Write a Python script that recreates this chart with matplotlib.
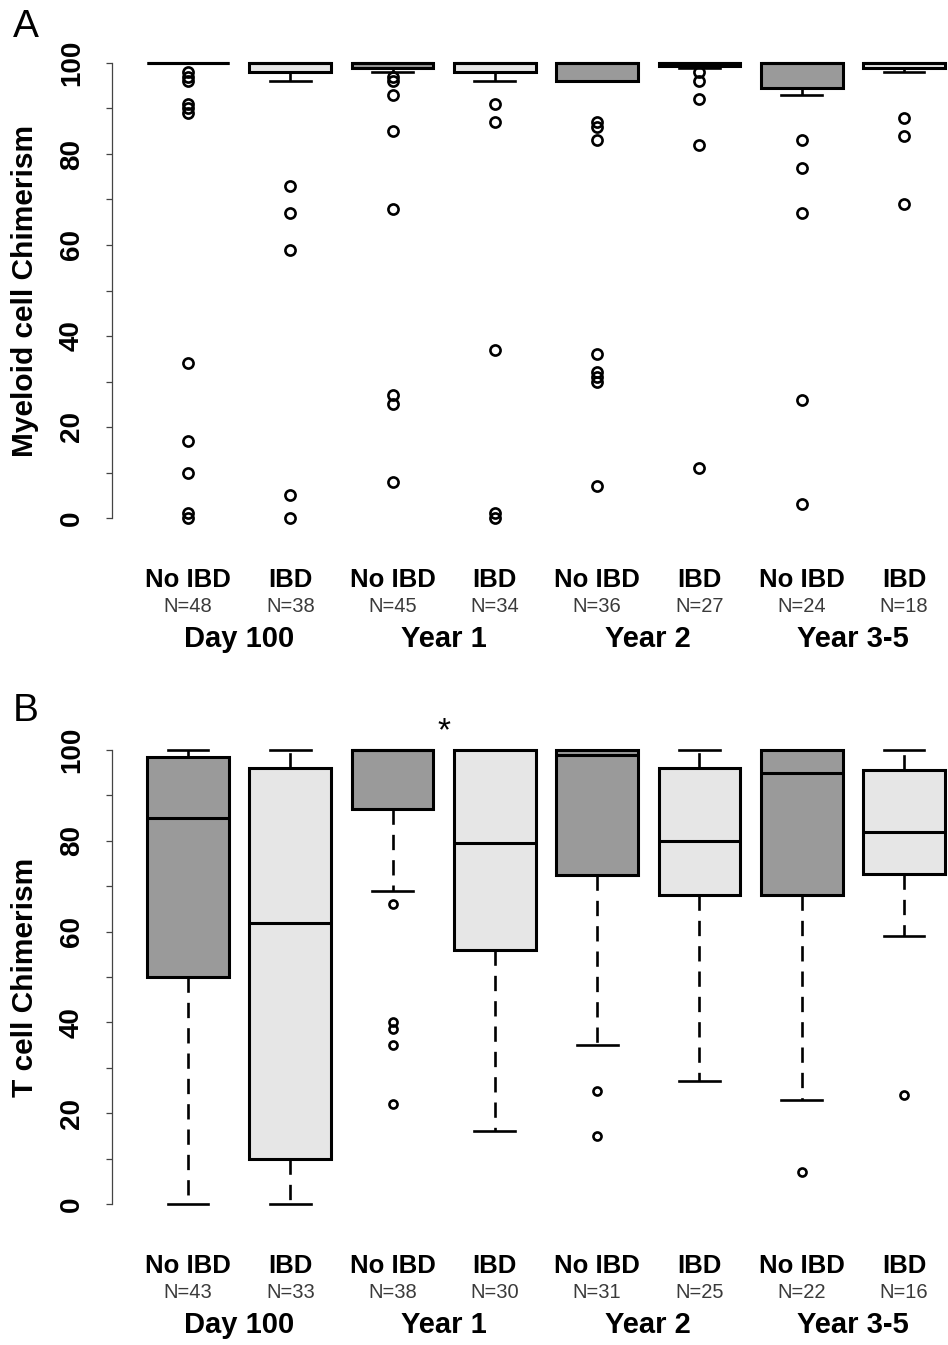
import matplotlib
matplotlib.use('Agg')
import matplotlib.pyplot as plt
from matplotlib.ticker import MultipleLocator

plt.rcParams['font.family'] = ['Liberation Sans', 'DejaVu Sans']

groups = ['Day 100', 'Year 1', 'Year 2', 'Year 3-5']
status = ['No IBD', 'IBD', 'No IBD', 'IBD', 'No IBD', 'IBD', 'No IBD', 'IBD']

# panel A - myeloid cell chimerism
myeloid_n = [48, 38, 45, 34, 36, 27, 24, 18]
myeloid_q1 = [100, 98, 98.8, 98, 96, 99.3, 94.5, 99]
myeloid_med = [100, 100, 100, 100, 100, 100, 100, 100]
myeloid_q3 = [100, 100, 100, 100, 100, 100, 100, 100]
myeloid_lo = [100, 96, 98, 96, 96, 99, 93, 98]
myeloid_hi = [100, 100, 100, 100, 100, 100, 100, 100]
myeloid_out = [
    [98, 97, 96, 91, 90, 89, 34, 17, 10, 1, 0],
    [73, 67, 59, 5, 0],
    [97, 96, 93, 85, 68, 27, 25, 8],
    [91, 87, 37, 1, 0],
    [87, 86, 83, 36, 32, 31, 30, 7],
    [98, 96, 92, 82, 11],
    [83, 77, 67, 26, 3],
    [88, 84, 69],
]

# panel B - T cell chimerism
tcell_n = [43, 33, 38, 30, 31, 25, 22, 16]
tcell_q1 = [50, 10, 87, 56, 72.5, 68, 68, 72.7]
tcell_med = [85, 62, 100, 79.5, 99, 80, 95, 82]
tcell_q3 = [98.5, 96, 100, 100, 100, 96, 100, 95.5]
tcell_lo = [0, 0, 69, 16, 35, 27, 23, 59]
tcell_hi = [100, 100, 100, 100, 100, 100, 100, 100]
tcell_out = [[], [], [66, 40, 38.5, 35, 22], [], [25, 15], [], [7], [24]]

fills = {'No IBD': '#9a9a9a', 'IBD': '#e6e6e6'}
W, H = 948, 1345


def make_stats(q1, med, q3, lo, hi, out):
    stats = []
    for i in range(len(q1)):
        stats.append(dict(q1=q1[i], med=med[i], q3=q3[i], whislo=lo[i],
                          whishi=hi[i], fliers=out[i]))
    return stats


def panel(ax, stats, counts, ylabel, msize):
    pos = list(range(1, len(stats) + 1))
    bp = ax.bxp(stats, positions=pos, widths=0.8, patch_artist=True,
                showfliers=True,
                boxprops=dict(linewidth=2.2, edgecolor='black'),
                whiskerprops=dict(linewidth=1.9, linestyle=(0, (5.8, 3.8)), color='black'),
                capprops=dict(linewidth=1.9, color='black'),
                medianprops=dict(linewidth=2.2, color='black'),
                flierprops=dict(marker='o', markersize=msize, markerfacecolor='none',
                                markeredgecolor='black', markeredgewidth=1.9))
    for patch, s in zip(bp['boxes'], status):
        patch.set_facecolor(fills[s])

    ax.set_xlim(0.257, 8.43)
    ax.set_ylim(-4, 104)
    for side in ['top', 'right', 'bottom']:
        ax.spines[side].set_visible(False)
    ax.spines['left'].set_bounds(0, 100)
    ax.spines['left'].set_linewidth(0.9)
    ax.spines['left'].set_color('#444444')
    ax.set_xticks([])
    ax.yaxis.set_major_locator(MultipleLocator(20))
    ax.yaxis.set_minor_locator(MultipleLocator(10))
    ax.tick_params(axis='y', which='both', length=4.5, width=0.9, color='#444444')
    ax.tick_params(axis='y', which='major', pad=15, labelsize=20)
    for lab in ax.get_yticklabels():
        lab.set_rotation(90)
        lab.set_va('center')
        lab.set_fontweight('bold')
    ax.set_ylabel(ylabel, fontsize=21.5, fontweight='bold', va='center')
    ax.yaxis.set_label_coords(-0.104, 0.5)

    for p, s, n in zip(pos, status, counts):
        ax.text(p, -15.2, s, ha='center', va='baseline', fontsize=18.5,
                fontweight='bold', clip_on=False)
        ax.text(p, -20.6, 'N=%d' % n, ha='center', va='baseline', fontsize=14.5,
                color='#3a3a3a', clip_on=False)
    for k, g in enumerate(groups):
        ax.text(2 * k + 1.5, -28.3, g, ha='center', va='baseline', fontsize=21,
                fontweight='bold', clip_on=False)


fig = plt.figure(figsize=(W / 100, H / 100), dpi=100)
axA = fig.add_axes([112 / W, 1 - 536.2 / H, 1 - 112 / W, 491.4 / H])
axB = fig.add_axes([112 / W, 1 - 1222.2 / H, 1 - 112 / W, 490.4 / H])

panel(axA, make_stats(myeloid_q1, myeloid_med, myeloid_q3, myeloid_lo, myeloid_hi, myeloid_out),
      myeloid_n, 'Myeloid cell Chimerism', 7.3)
panel(axB, make_stats(tcell_q1, tcell_med, tcell_q3, tcell_lo, tcell_hi, tcell_out),
      tcell_n, 'T cell Chimerism', 5.8)

# significance mark between Year 1 groups
axB.text(3.5, 102.2, '*', ha='center', va='baseline', fontsize=24, clip_on=False)

fig.text(26 / W, 1 - 27 / H, 'A', ha='center', va='center', fontsize=28)
fig.text(26 / W, 1 - 711 / H, 'B', ha='center', va='center', fontsize=28)

fig.savefig('out.png', dpi=100)
